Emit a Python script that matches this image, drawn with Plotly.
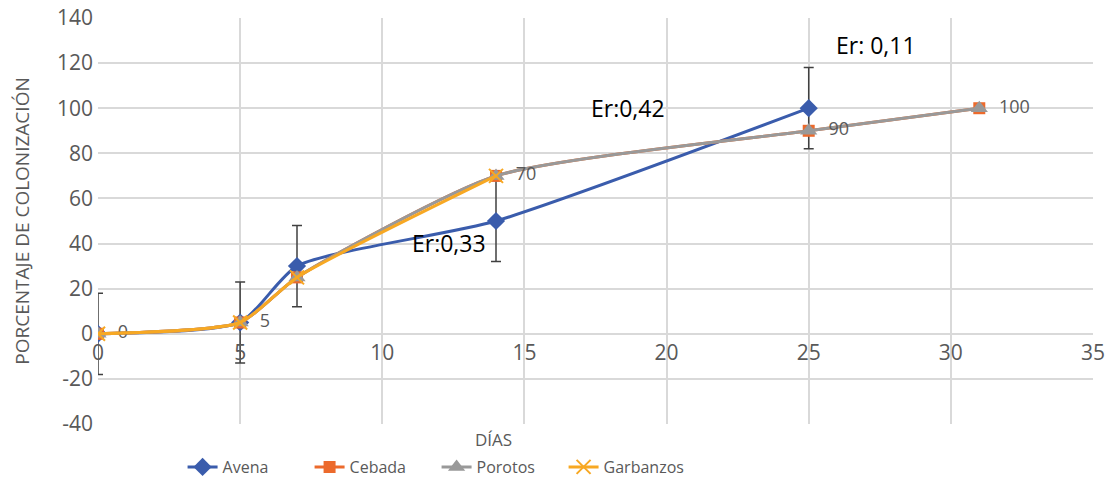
import plotly.graph_objects as go

dias_avena = [0, 5, 7, 14, 25]
avena = [0, 5, 30, 50, 100]
avena_err = [18, 18, 18, 18, 18]

dias_cebada = [0, 5, 7, 14, 25, 31]
cebada = [0, 5, 25, 70, 90, 100]

dias_porotos = [0, 5, 7, 14, 25, 31]
porotos = [0, 5, 25, 70, 90, 100]
porotos_labels = ["  0", "  5", "", "  70", "  90", "  100"]

dias_garbanzos = [0, 5, 7, 14]
garbanzos = [0, 5, 25, 70]

y_ticks = [-40, -20, 0, 20, 40, 60, 80, 100, 120, 140]
y_ticklabels = ["-40", "-20", "0", "20", "40", "60", "80", "100", "120", "140"]

er_notes = [(12.36, 40.4, "Er:0,33"), (18.66, 100.2, "Er:0,42"), (27.36, 128.2, "Er: 0,11")]

BLUE = "#3A5CAC"
ORANGE = "#EC6A2C"
GRAY = "#999999"
GOLD = "#F7A823"
TXT = "#595959"
GRID = "#D9D9D9"
FONT = "Open Sans, sans-serif"

fig = go.Figure()
fig.add_trace(go.Scatter(
    x=dias_avena, y=avena, name="Avena", mode="lines+markers",
    line=dict(color=BLUE, width=3, shape="spline", smoothing=0.6),
    marker=dict(symbol="diamond", size=14, color=BLUE),
    error_y=dict(type="data", array=avena_err, color="#404040", thickness=1.5, width=5),
))
fig.add_trace(go.Scatter(
    x=dias_cebada, y=cebada, name="Cebada", mode="lines+markers",
    line=dict(color=ORANGE, width=3, shape="spline", smoothing=0.6),
    marker=dict(symbol="square", size=12, color=ORANGE),
))
fig.add_trace(go.Scatter(
    x=dias_porotos, y=porotos, name="Porotos", mode="lines+markers+text",
    line=dict(color=GRAY, width=3, shape="spline", smoothing=0.6),
    marker=dict(symbol="triangle-up", size=15, color=GRAY),
    text=porotos_labels, textposition="middle right",
    textfont=dict(family=FONT, size=18, color=TXT),
))
fig.add_trace(go.Scatter(
    x=dias_garbanzos, y=garbanzos, name="Garbanzos", mode="lines+markers",
    line=dict(color=GOLD, width=3, shape="spline", smoothing=0.6),
    marker=dict(symbol="x-thin", size=14, color=GOLD, line=dict(color=GOLD, width=2)),
))

for x, y, t in er_notes:
    fig.add_annotation(x=x, y=y, text=t, showarrow=False,
                       font=dict(family=FONT, size=23, color="#000000"))

fig.add_annotation(x=0.397, xref="paper", y=-0.039, yref="paper", yanchor="middle",
                   text="DÍAS", showarrow=False,
                   font=dict(family=FONT, size=17, color=TXT))

H = 482
mt, mb = 18, 58
plot_h = H - mt - mb
y0_px = 334
pos0 = (H - mb - y0_px) / plot_h

fig.update_layout(
    width=1112, height=482,
    margin=dict(l=98, r=19, t=mt, b=mb),
    plot_bgcolor="white", paper_bgcolor="white",
    font=dict(family=FONT, color=TXT),
    xaxis=dict(range=[0, 35], dtick=5, showgrid=True, gridcolor=GRID, gridwidth=2,
               zeroline=False, showline=False, anchor="free", position=pos0,
               automargin=False,
               ticks="", tickfont=dict(size=21, color=TXT), ticklabelstandoff=4),
    yaxis=dict(range=[-40, 140], tickvals=y_ticks, ticktext=y_ticklabels,
               showgrid=True, gridcolor=GRID, gridwidth=2,
               zeroline=False, showline=False, ticks="", automargin=False,
               tickfont=dict(size=21, color=TXT), ticklabelstandoff=4,
               title=dict(text="PORCENTAJE DE COLONIZACIÓN", font=dict(size=19, color=TXT), standoff=22)),
    showlegend=True,
    legend=dict(orientation="h", x=0.085, xanchor="left",
                yref="container", y=15 / H, yanchor="middle",
                font=dict(size=16, color=TXT), itemwidth=30, entrywidth=82,
                traceorder="normal", tracegroupgap=0),
)

fig.write_html("out.html", config={"displayModeBar": False},
               post_script="document.body.style.margin='0';document.body.style.overflow='hidden';")
